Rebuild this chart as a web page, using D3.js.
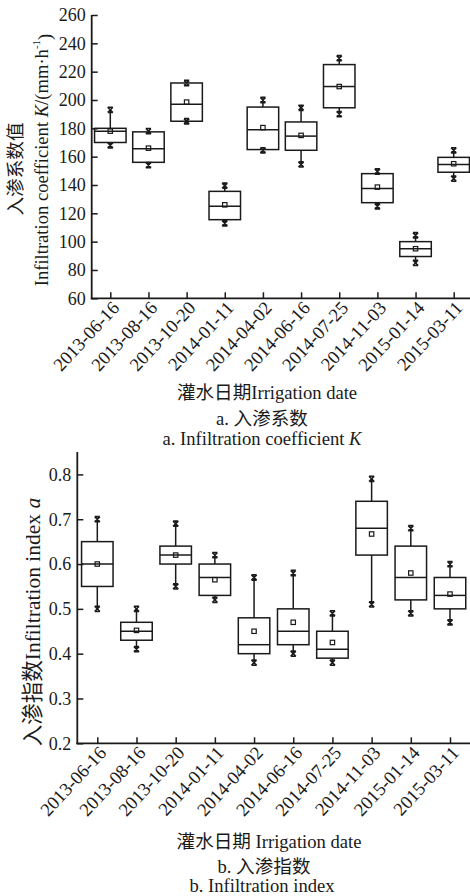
<!DOCTYPE html>
<html>
<head>
<meta charset="utf-8">
<script src="https://cdn.jsdelivr.net/npm/d3@7/dist/d3.min.js"></script>
<style>
html,body{margin:0;padding:0;background:#fff;}
svg{display:block;}
text{font-family:"Liberation Serif","Times New Roman","Noto Sans CJK SC",serif;fill:#1a1a1a;}
</style>
</head>
<body>
<svg id="chart" width="470" height="896"></svg>
<script>
const dates = ["2013-06-16","2013-08-16","2013-10-20","2014-01-11","2014-04-02","2014-06-16","2014-07-25","2014-11-03","2015-01-14","2015-03-11"];

// Panel a: infiltration coefficient K (mm/h)
const kMin    = [168, 154, 185, 113, 164.5, 154.5, 190, 125, 85, 144.5];
const kQ1     = [170, 156, 185, 115.5, 165, 164.5, 194.5, 127.5, 89.5, 149];
const kMedian = [178, 165.5, 197, 125, 179, 174.5, 209.5, 137.5, 95, 154.5];
const kQ3     = [180, 177.5, 212, 135.5, 195, 184.5, 225, 148, 100, 159.5];
const kMax    = [193, 178, 212, 139.5, 200, 194.5, 229.5, 149.5, 104.5, 164.5];
const kMean   = [178, 166, 198.5, 126, 180.5, 175, 209.5, 138.5, 95, 155];
const kTicks  = [60, 80, 100, 120, 140, 160, 180, 200, 220, 240, 260];

// Panel b: infiltration index a
const aMin    = [0.50, 0.41, 0.55, 0.52, 0.38, 0.40, 0.38, 0.51, 0.49, 0.47];
const aQ1     = [0.55, 0.43, 0.60, 0.53, 0.40, 0.42, 0.39, 0.62, 0.52, 0.50];
const aMedian = [0.60, 0.45, 0.62, 0.57, 0.42, 0.45, 0.41, 0.68, 0.57, 0.53];
const aQ3     = [0.65, 0.47, 0.64, 0.60, 0.48, 0.50, 0.45, 0.74, 0.64, 0.57];
const aMax    = [0.70, 0.50, 0.69, 0.62, 0.57, 0.58, 0.49, 0.79, 0.68, 0.60];
const aMean   = [0.60, 0.452, 0.62, 0.565, 0.45, 0.47, 0.425, 0.667, 0.58, 0.533];
const aTicks  = [0.2, 0.3, 0.4, 0.5, 0.6, 0.7, 0.8];

const svg = d3.select("#chart");
const INK = "#1a1a1a";
const FS = "18.6px";

function panel(cfg) {
  const g = svg.append("g");
  const x = d3.scalePoint().domain(dates).range(cfg.xRange);
  const y = d3.scaleLinear().domain(cfg.yDomain).range([cfg.bottom, cfg.top]);

  // y axis (ticks inward)
  const yAx = g.append("g").attr("transform", `translate(${cfg.left},0)`)
    .call(d3.axisRight(y).tickValues(cfg.ticks).tickSize(6).tickFormat(cfg.fmt));
  yAx.select(".domain").remove();
  yAx.attr("font-family", null);
  yAx.selectAll(".tick line").attr("stroke", INK).attr("stroke-width", 1.5);
  yAx.selectAll(".tick text").attr("x", -6).attr("text-anchor", "end")
    .attr("dy", "0.33em").style("font-size", "18px").attr("fill", INK);
  g.append("line").attr("x1", cfg.left).attr("x2", cfg.left)
    .attr("y1", cfg.top).attr("y2", cfg.bottom + 0.9)
    .attr("stroke", INK).attr("stroke-width", 1.8);

  // x axis (ticks inward)
  const xAx = g.append("g").attr("transform", `translate(0,${cfg.bottom})`)
    .call(d3.axisTop(x).tickSize(6).tickFormat(""));
  xAx.select(".domain").remove();
  xAx.selectAll(".tick line").attr("stroke", INK).attr("stroke-width", 1.5);
  g.append("line").attr("x1", cfg.left - 0.9).attr("x2", 470)
    .attr("y1", cfg.bottom).attr("y2", cfg.bottom)
    .attr("stroke", INK).attr("stroke-width", 1.8);

  // rotated date labels
  g.selectAll(".dlab").data(dates).enter().append("text")
    .attr("class", "dlab")
    .attr("transform", d => `translate(${x(d) + 10},${cfg.bottom + 10.5}) rotate(-47)`)
    .attr("text-anchor", "end")
    .style("font-size", FS)
    .text(d => d);

  // boxes
  const bw = cfg.boxW;
  const data = dates.map((d, i) => ({d, mn: cfg.mn[i], q1: cfg.q1[i], md: cfg.md[i], q3: cfg.q3[i], mx: cfg.mx[i], mean: cfg.mean[i]}));
  const b = g.selectAll(".box").data(data).enter().append("g").attr("class", "box");
  b.append("line").attr("x1", r => x(r.d)).attr("x2", r => x(r.d))
    .attr("y1", r => y(r.q3)).attr("y2", r => y(r.mx))
    .attr("stroke", INK).attr("stroke-width", 1.5);
  b.append("line").attr("x1", r => x(r.d)).attr("x2", r => x(r.d))
    .attr("y1", r => y(r.q1)).attr("y2", r => y(r.mn))
    .attr("stroke", INK).attr("stroke-width", 1.5);
  b.append("rect").attr("x", r => x(r.d) - bw / 2).attr("width", bw)
    .attr("y", r => y(r.q3)).attr("height", r => y(r.q1) - y(r.q3))
    .attr("fill", "none").attr("stroke", INK).attr("stroke-width", 1.5);
  b.append("line").attr("x1", r => x(r.d) - bw / 2).attr("x2", r => x(r.d) + bw / 2)
    .attr("y1", r => y(r.md)).attr("y2", r => y(r.md))
    .attr("stroke", INK).attr("stroke-width", 1.5);
  // mean square
  b.append("rect").attr("x", r => x(r.d) - 2.2).attr("y", r => y(r.mean) - 2.2)
    .attr("width", 4.4).attr("height", 4.4)
    .attr("fill", "none").attr("stroke", INK).attr("stroke-width", 1.2);
  // min / max crosses
  ["mn", "mx"].forEach(k => {
    const s = 2.6;
    b.append("path")
      .attr("d", r => {
        const cx = x(r.d), cy = y(r[k]);
        return `M${cx - s},${cy - s}L${cx + s},${cy + s}M${cx - s},${cy + s}L${cx + s},${cy - s}` +
               `M${cx - s},${cy - s}L${cx + s},${cy - s}M${cx - s},${cy + s}L${cx + s},${cy + s}`;
      })
      .attr("stroke", INK).attr("stroke-width", 1.6).attr("fill", "none");
  });
  return g;
}

panel({
  xRange: [110.3, 453.7], yDomain: [60, 260], top: 15, bottom: 298.3, left: 91.7,
  ticks: kTicks, fmt: d3.format("d"), boxW: 31.5,
  mn: kMin, q1: kQ1, md: kMedian, q3: kQ3, mx: kMax, mean: kMean
});

panel({
  xRange: [97.3, 450], yDomain: [0.2, 0.85], top: 452, bottom: 743.3, left: 77.3,
  ticks: aTicks, fmt: d3.format(".1f"), boxW: 31.5,
  mn: aMin, q1: aQ1, md: aMedian, q3: aQ3, mx: aMax, mean: aMean
});

// axis titles panel a
svg.append("text").attr("transform", "translate(15,169) rotate(-90)")
  .attr("text-anchor", "middle").attr("dominant-baseline", "central")
  .style("font-size", FS).text("入渗系数值");
const yt = svg.append("text").attr("transform", "translate(41,160) rotate(-90)")
  .attr("text-anchor", "middle").attr("dominant-baseline", "central")
  .style("font-size", FS);
yt.append("tspan").text("Infiltration coefficient ");
yt.append("tspan").attr("font-style", "italic").text("K");
yt.append("tspan").text("/(mm·h");
yt.append("tspan").attr("dy", "-0.45em").style("font-size", "11px").text("-1");
yt.append("tspan").attr("dy", "0.45em").text(")");

svg.append("text").attr("x", 267).attr("y", 392).attr("text-anchor", "middle")
  .attr("dominant-baseline", "central").style("font-size", FS).text("灌水日期Irrigation date");
svg.append("text").attr("x", 262).attr("y", 418).attr("text-anchor", "middle")
  .attr("dominant-baseline", "central").style("font-size", FS).text("a. 入渗系数");
const ta = svg.append("text").attr("x", 262).attr("y", 438).attr("text-anchor", "middle")
  .attr("dominant-baseline", "central").style("font-size", FS);
ta.append("tspan").text("a. Infiltration coefficient ");
ta.append("tspan").attr("font-style", "italic").text("K");

// axis titles panel b
const yb = svg.append("text").attr("transform", "translate(33,622) rotate(-90)")
  .attr("text-anchor", "middle").attr("dominant-baseline", "central")
  .style("font-size", "21.5px");
yb.append("tspan").text("入渗指数Infiltration index ");
yb.append("tspan").attr("font-style", "italic").text("a");

svg.append("text").attr("x", 269).attr("y", 841).attr("text-anchor", "middle")
  .attr("dominant-baseline", "central").style("font-size", FS).text("灌水日期 Irrigation date");
svg.append("text").attr("x", 264).attr("y", 866).attr("text-anchor", "middle")
  .attr("dominant-baseline", "central").style("font-size", FS).text("b. 入渗指数");
svg.append("text").attr("x", 262).attr("y", 885).attr("text-anchor", "middle")
  .attr("dominant-baseline", "central").style("font-size", FS).text("b. Infiltration index");
</script>
</body>
</html>
